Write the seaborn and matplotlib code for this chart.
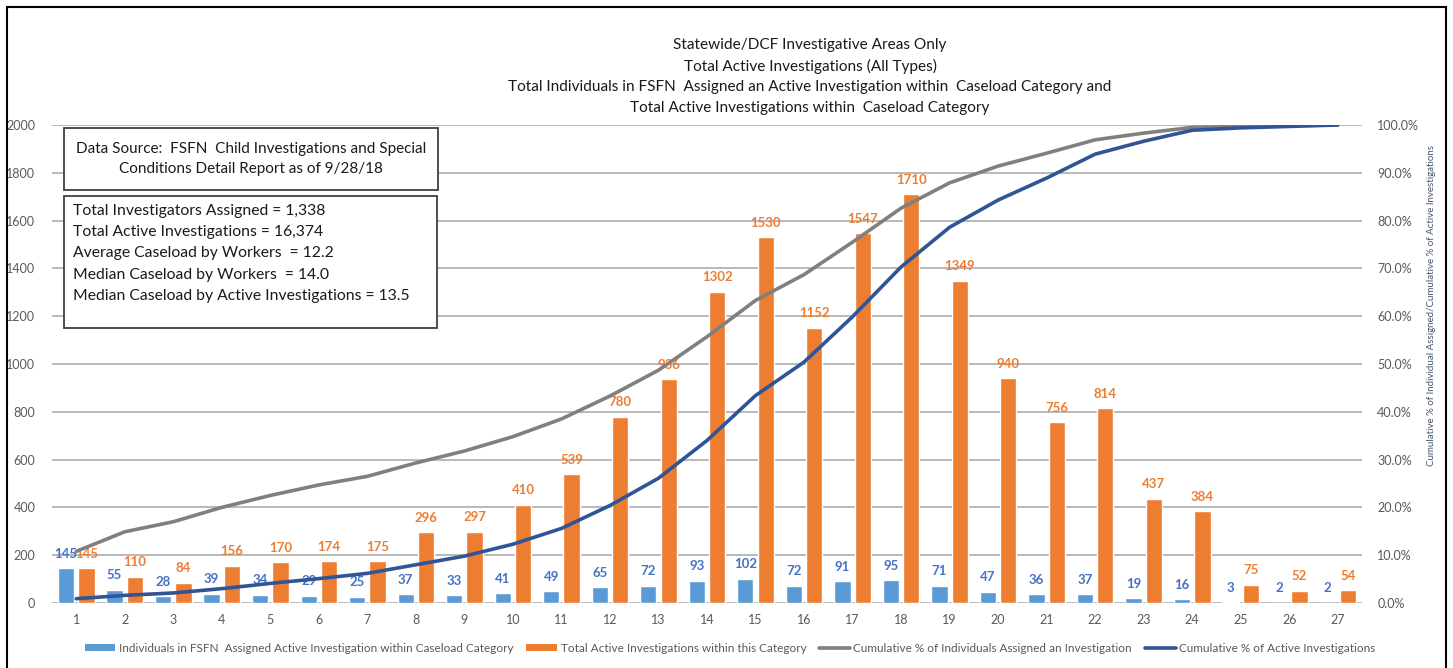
import matplotlib
matplotlib.use("Agg")
import matplotlib.pyplot as plt
import seaborn as sns
import pandas as pd
from matplotlib.patches import Rectangle, Patch
from matplotlib.lines import Line2D

categories = [str(i) for i in range(1, 28)]
individuals = [145, 55, 28, 39, 34, 29, 25, 37, 33, 41, 49, 65, 72, 93, 102, 72,
               91, 95, 71, 47, 36, 37, 19, 16, 3, 2, 2]
investigations = [145, 110, 84, 156, 170, 174, 175, 296, 297, 410, 539, 780, 936,
                  1302, 1530, 1152, 1547, 1710, 1349, 940, 756, 814, 437, 384, 75, 52, 54]
cum_individuals_pct = [10.8, 14.9, 17.0, 20.0, 22.5, 24.7, 26.5, 29.3, 31.8, 34.8,
                       38.5, 43.3, 48.7, 55.7, 63.3, 68.7, 75.5, 82.6, 87.9, 91.4,
                       94.1, 96.9, 98.3, 99.5, 99.7, 99.9, 100.0]
cum_investigations_pct = [0.9, 1.6, 2.1, 3.0, 4.1, 5.1, 6.2, 8.0, 9.8, 12.3, 15.6,
                          20.4, 26.1, 34.0, 43.4, 50.4, 59.9, 70.3, 78.6, 84.3, 88.9,
                          93.9, 96.6, 98.9, 99.4, 99.7, 100.0]
series_names = ["Individuals in FSFN  Assigned Active Investigation within Caseload Category",
                "Total Active Investigations within this Category",
                "Cumulative % of Individuals Assigned an Investigation",
                "Cumulative % of Active Investigations"]
title_lines = ["Statewide/DCF Investigative Areas Only",
               "Total Active Investigations (All Types)",
               "Total Individuals in FSFN  Assigned an Active Investigation within  Caseload Category and",
               "Total Active Investigations within  Caseload Category"]
source_text = "Data Source:  FSFN  Child Investigations and Special\nConditions Detail Report as of 9/28/18"
stats_lines = ["Total Investigators Assigned = 1,338",
               "Total Active Investigations = 16,374",
               "Average Caseload by Workers  = 12.2",
               "Median Caseload by Workers  = 14.0",
               "Median Caseload by Active Investigations = 13.5"]
right_label = "Cumulative % of Individual Assigned/Cumulative % of Active Investigations"

BLUE = "#5B9BD5"
ORANGE = "#ED7D31"
GRAY = "#808080"
DBLUE = "#2F5597"
BLUE_TXT = "#4472C4"
TICK = "#595959"

sns.set_theme(style="white")
plt.rcParams["font.family"] = ["Lato", "DejaVu Sans"]

W, H = 1453, 668
fig = plt.figure(figsize=(W / 100, H / 100), dpi=100)

def fx(px):
    return px / W

def fy(py):
    return 1 - py / H

ax_l, ax_r, ax_t, ax_b = 52, 1362, 125, 603
ax = fig.add_axes([fx(ax_l), fy(ax_b), fx(ax_r - ax_l), (ax_b - ax_t) / H])

df = pd.DataFrame({
    "cat": categories * 2,
    "value": individuals + investigations,
    "series": [series_names[0]] * 27 + [series_names[1]] * 27,
})
sns.barplot(data=df, x="cat", y="value", hue="series", order=categories,
            hue_order=series_names[:2], palette=[BLUE, ORANGE], width=0.84,
            gap=0.2, ax=ax, legend=False, saturation=1, zorder=2)

ax.set_xlim(-0.5, 26.5)
ax.set_ylim(0, 2000)
ax.set_yticks(range(0, 2001, 200))
ax.yaxis.grid(True, color="#A6A6A6", linewidth=1.1, zorder=0)
ax.set_axisbelow(True)
for s in ax.spines.values():
    s.set_visible(False)
ax.set_xlabel("")
ax.set_ylabel("")
ax.tick_params(axis="both", length=0, labelsize=9, labelcolor=TICK)
ax.tick_params(axis="y", pad=12)
ax.tick_params(axis="x", pad=8)

# bar value labels
for container, vals, col in zip(ax.containers, [individuals, investigations], [BLUE_TXT, ORANGE]):
    for bar, v in zip(container, vals):
        xc = bar.get_x() + bar.get_width() / 2
        ax.annotate(str(v), (xc, v), xytext=(0, 10.5), textcoords="offset points",
                    ha="center", va="center", fontsize=9.5, fontweight="bold",
                    color=col, zorder=3)

ax2 = ax.twinx()
xs = list(range(27))
sns.lineplot(x=xs, y=cum_individuals_pct, ax=ax2, color=GRAY, linewidth=2.6, zorder=4)
sns.lineplot(x=xs, y=cum_investigations_pct, ax=ax2, color=DBLUE, linewidth=2.6, zorder=5)
ax2.set_ylim(0, 100)
ax2.set_yticks(range(0, 101, 10))
ax2.set_yticklabels([f"{v:.1f}%" for v in range(0, 101, 10)])
ax2.tick_params(axis="y", length=0, labelsize=9, labelcolor=TICK, pad=11)
for s in ax2.spines.values():
    s.set_visible(False)
ax2.grid(False)

# right axis label
fig.text(fx(1432), fy(305), right_label, rotation=90, ha="center", va="center",
         fontsize=7, color="#44546A")

# title
for i, line in enumerate(title_lines):
    fig.text(fx(810), fy(45 + i * 21), line, ha="center", va="center",
             fontsize=11.1, color="#1a1a1a")

# text boxes
fig.patches.append(Rectangle((fx(64), fy(190)), fx(438 - 64), (190 - 128) / H,
                             transform=fig.transFigure, fill=True, facecolor="white",
                             edgecolor="#404040", linewidth=1.3, zorder=10))
fig.text(fx(251), fy(159), source_text, ha="center", va="center", fontsize=11,
         color="#1a1a1a", linespacing=1.5, zorder=11)
fig.patches.append(Rectangle((fx(64), fy(328)), fx(437 - 64), (328 - 196) / H,
                             transform=fig.transFigure, fill=True, facecolor="white",
                             edgecolor="#404040", linewidth=1.3, zorder=10))
for i, line in enumerate(stats_lines):
    fig.text(fx(73), fy(211 + i * 21.2), line, ha="left", va="center", fontsize=11.35,
             color="#1a1a1a", zorder=11)

# legend
handles = [Patch(facecolor=BLUE, edgecolor="none"),
           Patch(facecolor=ORANGE, edgecolor="none"),
           Line2D([0], [0], color=GRAY, linewidth=2.6),
           Line2D([0], [0], color=DBLUE, linewidth=2.6)]
leg = fig.legend(handles, series_names, loc="center", bbox_to_anchor=(fx(730), fy(648)),
                 ncol=4, frameon=False, fontsize=8.5, handlelength=2.6, handleheight=0.5,
                 handletextpad=0.3, columnspacing=1.1)
for t in leg.get_texts():
    t.set_color(TICK)

# outer frame
fig.patches.append(Rectangle((fx(7), fy(700)), fx(1446 - 7), (700 - 7) / H,
                             transform=fig.transFigure, fill=False, edgecolor="black",
                             linewidth=1.5, zorder=20))

fig.savefig("out.png", dpi=100)
